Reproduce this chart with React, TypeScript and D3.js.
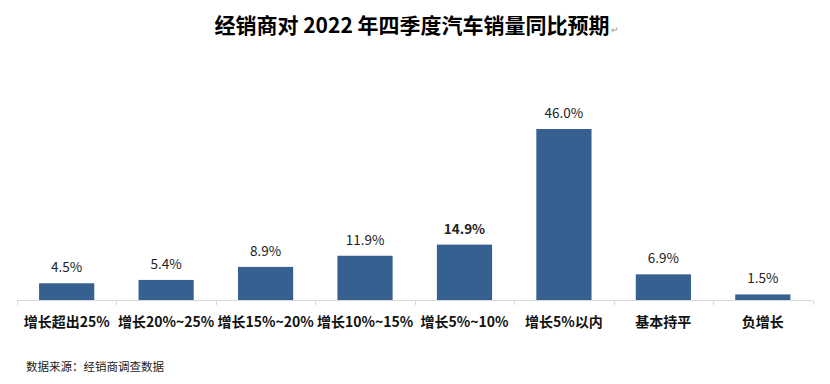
import React from "react";
import * as d3 from "d3";

const categories = ["增长超出25%", "增长20%~25%", "增长15%~20%", "增长10%~15%", "增长5%~10%", "增长5%以内", "基本持平", "负增长"];
const values = [4.5, 5.4, 8.9, 11.9, 14.9, 46.0, 6.9, 1.5];
const boldLabels = ["增长5%~10%"];
const title = "经销商对 2022 年四季度汽车销量同比预期";
const source = "数据来源：经销商调查数据";

const W = 830;
const H = 384;
const FONT = "'Noto Sans CJK SC', 'Noto Sans', sans-serif";

export default function App() {
  const x = d3.scaleBand<string>().domain(categories).range([17, 812.5]).paddingInner(0.445).paddingOuter(0.222);
  const y = d3.scaleLinear().domain([0, 46]).range([300, 129]);
  const step = x.step();
  const ticks = d3.range(categories.length + 1).map((i) => 17 + i * step);
  return (
    <svg width={W} height={H} style={{ position: "absolute", left: 0, top: 0, background: "#fff" }} fontFamily={FONT}>
      <text x={412} y={33} textAnchor="middle" fontSize={21} fontWeight="bold" fill="#000">{title}</text>
      <text x={611} y={33} fontSize={9} fill="#999">↵</text>
      {categories.map((c, i) => {
        const bx = x(c)!;
        const by = y(values[i]);
        const isBold = boldLabels.includes(c);
        return (
          <g key={c}>
            <rect x={bx} y={by} width={x.bandwidth()} height={y(0) - by} fill="#36608f" />
            <text x={bx + x.bandwidth() / 2} y={by - 11} textAnchor="middle" fontSize={13.5} fontWeight={isBold ? "bold" : "normal"} fill="#222">{values[i].toFixed(1)}%</text>
            <text x={bx + x.bandwidth() / 2} y={327} textAnchor="middle" fontSize={14} fontWeight="bold" fill="#111">{c}</text>
          </g>
        );
      })}
      <line x1={17} x2={812.5} y1={300.5} y2={300.5} stroke="#d9d9d9" strokeWidth={1} />
      {ticks.map((t, i) => (
        <line key={i} x1={Math.round(t) + 0.5} x2={Math.round(t) + 0.5} y1={300.5} y2={305} stroke="#d9d9d9" strokeWidth={1} />
      ))}
      <text x={26} y={371} fontSize={11.5} fill="#222">{source}</text>
    </svg>
  );
}
